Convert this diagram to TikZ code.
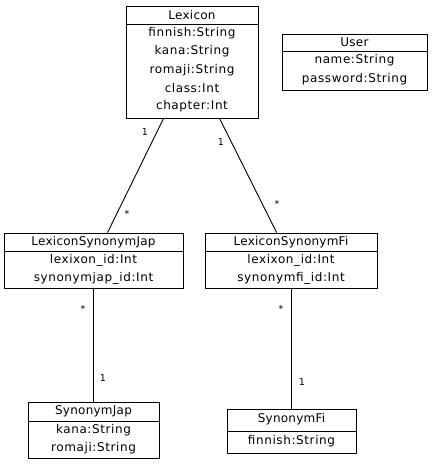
\documentclass[tikz,border=0pt]{standalone}
\usepackage{fontspec}
\setmainfont{DejaVu Sans}
\newfontfamily\attrfont[LetterSpace=5]{DejaVu Sans}
\newfontfamily\headfont[LetterSpace=2]{DejaVu Sans}
\begin{document}
\begin{tikzpicture}[x=1pt,y=-1pt,
  umlbox/.style={draw, line width=0.9pt, inner sep=0pt},
  txt/.style={font=\attrfont\fontsize{12}{14}\selectfont, inner sep=0pt, anchor=center},
  head/.style={font=\headfont\fontsize{12}{14}\selectfont, inner sep=0pt, anchor=center},
  mult/.style={font=\fontsize{9.5}{11}\selectfont, inner sep=0pt},
  conn/.style={line width=0.9pt},
  divider/.style={line width=0.9pt}]
\useasboundingbox (0,0) rectangle (436,465);
% Lexicon
\node[umlbox, minimum width=132pt, minimum height=112pt] (lex) at (192,62) {};
\draw[divider] (126,24) -- (258,24);
\node[head] (lexh) at (192,15) {Lexicon};
\node[txt] (lex1) at (192,33) {finnish:String};
\node[txt] (lex2) at (192,51.5) {kana:String};
\node[txt] (lex3) at (192,70) {romaji:String};
\node[txt] (lex4) at (192,88) {class:Int};
\node[txt] (lex5) at (192,106.5) {chapter:Int};
% User
\node[umlbox, minimum width=145pt, minimum height=56pt] (user) at (354.5,62) {};
\draw[divider] (282,51) -- (427,51);
\node[head] (userh) at (354.5,42.5) {User};
\node[txt] (user1) at (354.5,60.5) {name:String};
\node[txt] (user2) at (354.5,79) {password:String};
% LexiconSynonymJap
\node[umlbox, minimum width=179pt, minimum height=55pt] (lsj) at (93.5,260.5) {};
\draw[divider] (4,251) -- (183,251);
\node[head] (lsjh) at (93.5,242) {LexiconSynonymJap};
\node[txt] (lsj1) at (93.5,260) {lexixon\_id:Int};
\node[txt] (lsj2) at (93.5,278.5) {synonymjap\_id:Int};
% LexiconSynonymFi
\node[umlbox, minimum width=172pt, minimum height=55pt] (lsf) at (291,260.5) {};
\draw[divider] (205,251) -- (377,251);
\node[head] (lsfh) at (291,242) {LexiconSynonymFi};
\node[txt] (lsf1) at (291,260) {lexixon\_id:Int};
\node[txt] (lsf2) at (291,278.5) {synonymfi\_id:Int};
% SynonymJap
\node[umlbox, minimum width=131pt, minimum height=56pt] (sj) at (93.5,430) {};
\draw[divider] (28,421) -- (159,421);
\node[head] (sjh) at (93.5,411.5) {SynonymJap};
\node[txt] (sj1) at (93.5,430) {kana:String};
\node[txt] (sj2) at (93.5,448.5) {romaji:String};
% SynonymFi
\node[umlbox, minimum width=129pt, minimum height=44pt] (sf) at (291.5,431) {};
\draw[divider] (227,431) -- (356,431);
\node[head] (sfh) at (291.5,419.5) {SynonymFi};
\node[txt] (sf1) at (291.5,441) {finnish:String};
% connectors
\draw[conn] ([xshift=38pt]lex.south west) -- ([xshift=104pt]lsj.north west);
\draw[conn] ([xshift=94pt]lex.south west) -- ([xshift=72pt]lsf.north west);
\draw[conn] (lsj.south) -- (lsj.south |- sj.north);
\draw[conn] (lsf.south) -- (lsf.south |- sf.north);
% multiplicities
\node[mult] (m1) at (145,132) {1};
\node[mult] (m2) at (127,214) {*};
\node[mult] (m3) at (221,142) {1};
\node[mult] (m4) at (277,204) {*};
\node[mult] (m5) at (83,309) {*};
\node[mult] (m6) at (103,378) {1};
\node[mult] (m7) at (281,309) {*};
\node[mult] (m8) at (302,382) {1};
\end{tikzpicture}
\end{document}
